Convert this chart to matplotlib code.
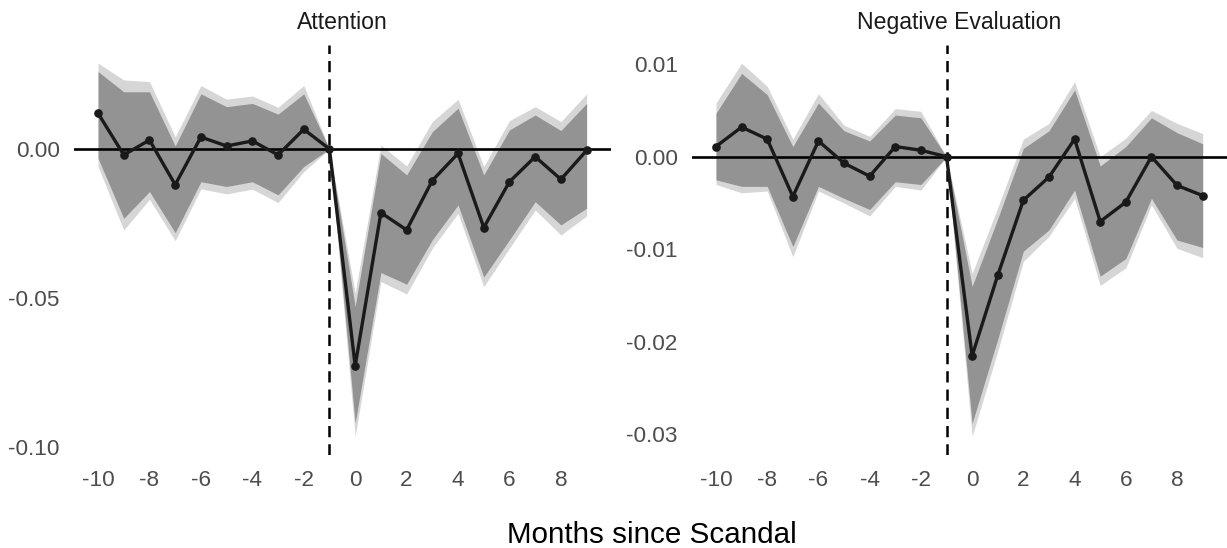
import numpy as np
import matplotlib
matplotlib.use('Agg')
import matplotlib.pyplot as plt

plt.rcParams['font.family'] = ['Liberation Sans', 'DejaVu Sans']
plt.rcParams['axes.unicode_minus'] = False

months = list(range(-10, 10))

# Attention: estimate, inner (dark) and outer (light) confidence bands
att_est = [0.012, -0.002, 0.003, -0.012, 0.004, 0.001, 0.0027, -0.002, 0.0066, 0.0,
           -0.0728, -0.0214, -0.0272, -0.0106, -0.0015, -0.0264, -0.011, -0.0026, -0.0102, -0.0005]
att_lo_in = [-0.0031, -0.0233, -0.0143, -0.0281, -0.011, -0.0126, -0.011, -0.0154, -0.0059, 0.0,
             -0.092, -0.0415, -0.0454, -0.0305, -0.0188, -0.043, -0.0305, -0.0177, -0.0255, -0.0199]
att_hi_in = [0.026, 0.0192, 0.0192, 0.001, 0.0185, 0.0142, 0.0153, 0.0117, 0.0185, 0.0,
             -0.0529, -0.0015, -0.0087, 0.0058, 0.0137, -0.0087, 0.0064, 0.0114, 0.0062, 0.0153]
att_lo_out = [-0.0059, -0.0272, -0.0169, -0.0308, -0.0134, -0.0151, -0.0135, -0.018, -0.0076, 0.0,
              -0.0965, -0.0445, -0.0487, -0.0333, -0.0216, -0.0462, -0.0333, -0.0205, -0.0289, -0.0225]
att_hi_out = [0.0288, 0.0232, 0.0226, 0.0041, 0.0213, 0.0167, 0.0178, 0.014, 0.0213, 0.0,
              -0.0484, 0.0013, -0.0057, 0.0092, 0.0167, -0.0059, 0.0095, 0.0142, 0.0092, 0.0185]

# Negative Evaluation
neg_est = [0.0011, 0.0032, 0.0019, -0.0043, 0.0017, -0.0007, -0.0021, 0.0011, 0.0007, 0.0,
           -0.0215, -0.0128, -0.0047, -0.0022, 0.0019, -0.007, -0.0049, 0.0, -0.0031, -0.0042]
neg_lo_in = [-0.0025, -0.0032, -0.0032, -0.0097, -0.0032, -0.0045, -0.0057, -0.0027, -0.003, 0.0,
             -0.0288, -0.0197, -0.0102, -0.0079, -0.0036, -0.0129, -0.011, -0.0045, -0.009, -0.0098]
neg_hi_in = [0.0047, 0.009, 0.0067, 0.0011, 0.0058, 0.0028, 0.0017, 0.0045, 0.0042, 0.0,
             -0.014, -0.0067, 0.0009, 0.0028, 0.0072, -0.001, 0.0011, 0.0042, 0.0026, 0.0014]
neg_lo_out = [-0.003, -0.0039, -0.0037, -0.0108, -0.0037, -0.005, -0.0064, -0.0032, -0.0036, 0.0,
              -0.0302, -0.021, -0.0113, -0.0086, -0.0045, -0.0139, -0.012, -0.0052, -0.0099, -0.0109]
neg_hi_out = [0.0058, 0.0101, 0.0076, 0.0019, 0.0068, 0.0034, 0.0022, 0.0052, 0.0049, 0.0,
              -0.0126, -0.0055, 0.0019, 0.0036, 0.0081, 0.0, 0.002, 0.005, 0.0036, 0.0025]

panels = [
    ('Attention', att_est, att_lo_in, att_hi_in, att_lo_out, att_hi_out,
     [0.0, -0.05, -0.10], ['0.00', '-0.05', '-0.10']),
    ('Negative Evaluation', neg_est, neg_lo_in, neg_hi_in, neg_lo_out, neg_hi_out,
     [0.01, 0.0, -0.01, -0.02, -0.03], ['0.01', '0.00', '-0.01', '-0.02', '-0.03']),
]
xticks = list(range(-10, 9, 2))
xtick_labels = [str(v) for v in xticks]

fig = plt.figure(figsize=(12.27, 5.48), dpi=100)
rects = [[0.060, 0.1697, 0.438, 0.749], [0.5637, 0.1697, 0.4363, 0.749]]

for rect, (title, est, lo_in, hi_in, lo_out, hi_out, yt, ytl) in zip(rects, panels):
    ax = fig.add_axes(rect)
    ax.fill_between(months, lo_out, hi_out, color='#d6d6d6', linewidth=0)
    ax.fill_between(months, lo_in, hi_in, color='#939393', linewidth=0)
    ax.axhline(0, color='black', lw=1.9)
    ax.axvline(-1, color='black', lw=1.8, linestyle=(0, (4.5, 2.8)))
    ax.plot(months, est, color='#1a1a1a', lw=2.4, marker='o', markersize=5.2)

    # ggplot-style 5% expansion
    ymin, ymax = min(lo_out), max(hi_out)
    pad = (ymax - ymin) * 0.05
    ax.set_ylim(ymin - pad, ymax + pad)
    ax.set_xlim(-10.95, 9.95)

    ax.set_xticks(xticks)
    ax.set_xticklabels(xtick_labels)
    ax.set_yticks(yt)
    ax.set_yticklabels(ytl)
    ax.tick_params(length=0, labelcolor='#4d4d4d', labelsize=16.2)
    ax.tick_params(axis='y', pad=10)
    ax.tick_params(axis='x', pad=10.5)
    for s in ax.spines.values():
        s.set_visible(False)
    ax.set_title(title, fontsize=16.6, color='#1a1a1a', pad=11)

fig.text(0.531, 0.009, 'Months since Scandal', fontsize=21.3, color='black',
         ha='center', va='baseline')

plt.savefig('out.png', dpi=100)
plt.close()
